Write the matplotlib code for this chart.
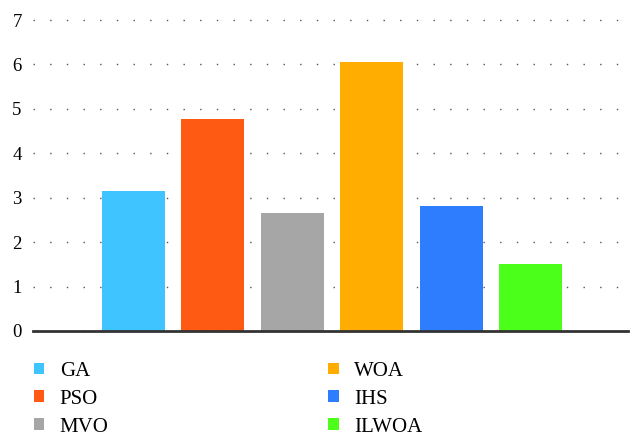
import numpy as np
import matplotlib.pyplot as plt
from matplotlib.patches import Patch, Rectangle

plt.rcParams['font.family'] = ['Liberation Serif', 'DejaVu Serif']

algorithms = ["GA", "PSO", "MVO", "WOA", "IHS", "ILWOA"]
values = [3.15, 4.78, 2.66, 6.06, 2.82, 1.51]
colors = ["#40C4FF", "#FF5A14", "#A6A6A6", "#FFAD00", "#2E7DFF", "#4CFF1A"]
yticks = [0, 1, 2, 3, 4, 5, 6, 7]

fig = plt.figure(figsize=(6.44, 4.46), dpi=100)
ax = fig.add_axes([0.051, 0.258, 0.924, 0.697])

x = np.arange(len(algorithms))
ax.bar(x, values, width=0.79, color=colors, zorder=3)

ax.set_xlim(-1.26, 6.22)
ax.set_ylim(0, 7)
ax.set_yticks(yticks)
ax.set_xticks([])
ax.tick_params(axis='y', length=0, pad=8, labelsize=13.5)
for side in ["top", "right", "left"]:
    ax.spines[side].set_visible(False)
ax.spines["bottom"].set_color("#333333")
ax.spines["bottom"].set_linewidth(2)
ax.spines["bottom"].set_zorder(4)
ax.yaxis.grid(True, linestyle=(0, (1, 11)), color="#555555", linewidth=1, zorder=0)
for line in ax.get_ygridlines():
    line.set_clip_on(False)

# legend, two columns below the plot
handles = [Patch(facecolor=c, label=a) for a, c in zip(algorithms, colors)]
fig.legend(handles=handles, ncol=2, loc="upper left", bbox_to_anchor=(0.036, 0.212),
           frameon=False, fontsize=15, handlelength=0.5, handleheight=0.5,
           handletextpad=0.75, labelspacing=0.43, columnspacing=10.55, borderpad=0)

# the original picture is cut off just under the last legend row
fig.patches.append(Rectangle((0, 0), 1, 0.029, transform=fig.transFigure,
                             facecolor="white", edgecolor="none", zorder=10))

fig.savefig("out.png", dpi=100)
